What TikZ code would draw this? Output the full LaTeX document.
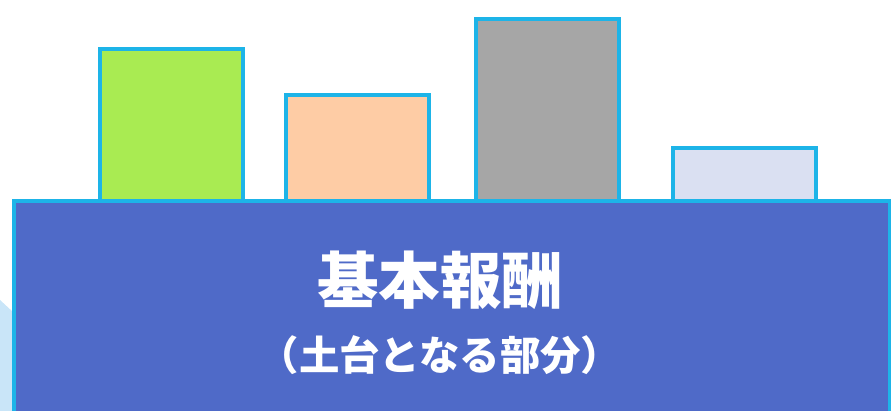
\documentclass[tikz,border=0pt]{standalone}
\usepackage{fontspec}
\newfontfamily\cjk{Noto Sans CJK JP}
\usepackage{xcolor}
\usepackage{tikz}
\usetikzlibrary{positioning}
\definecolor{edgeblue}{HTML}{1DB4E8}
\definecolor{baseblue}{HTML}{4F6AC8}
\definecolor{barA}{HTML}{A9EB52}
\definecolor{barB}{HTML}{FECCA5}
\definecolor{barC}{HTML}{A6A6A6}
\definecolor{barD}{HTML}{DAE0F2}
\definecolor{paleblue}{HTML}{C9E5F8}
\tikzset{
    bar/.style={draw=edgeblue, line width=2.2pt},
    base/.style={draw=edgeblue, line width=2.2pt, fill=baseblue},
    title/.style={text=white, font=\cjk\bfseries\fontsize{35}{40}\selectfont},
    subtitle/.style={text=white, font=\cjk\bfseries\fontsize{23}{27}\selectfont}
}

\begin{document}
\begin{tikzpicture}[x=0.02cm, y=-0.02cm]
    \useasboundingbox (0,0) rectangle (891,411);
    \fill[paleblue] (0,300) -- (120,411) -- (0,411) -- cycle;
    % bars
    \draw[bar, fill=barA] (100,201) rectangle (243,49);
    \draw[bar, fill=barB] (286,201) rectangle (429,95);
    \draw[bar, fill=barC] (476,201) rectangle (619,19);
    \draw[bar, fill=barD] (673,201) rectangle (816,148);
    % base
    \draw[base] (14,430) -- (14,201) -- (890,201) -- (890,430);
    \node (head) [title] at (440,280) {基本報酬};
    \node (sub) [subtitle] at (440,355) {（土台となる部分）};
\end{tikzpicture}
\end{document}
